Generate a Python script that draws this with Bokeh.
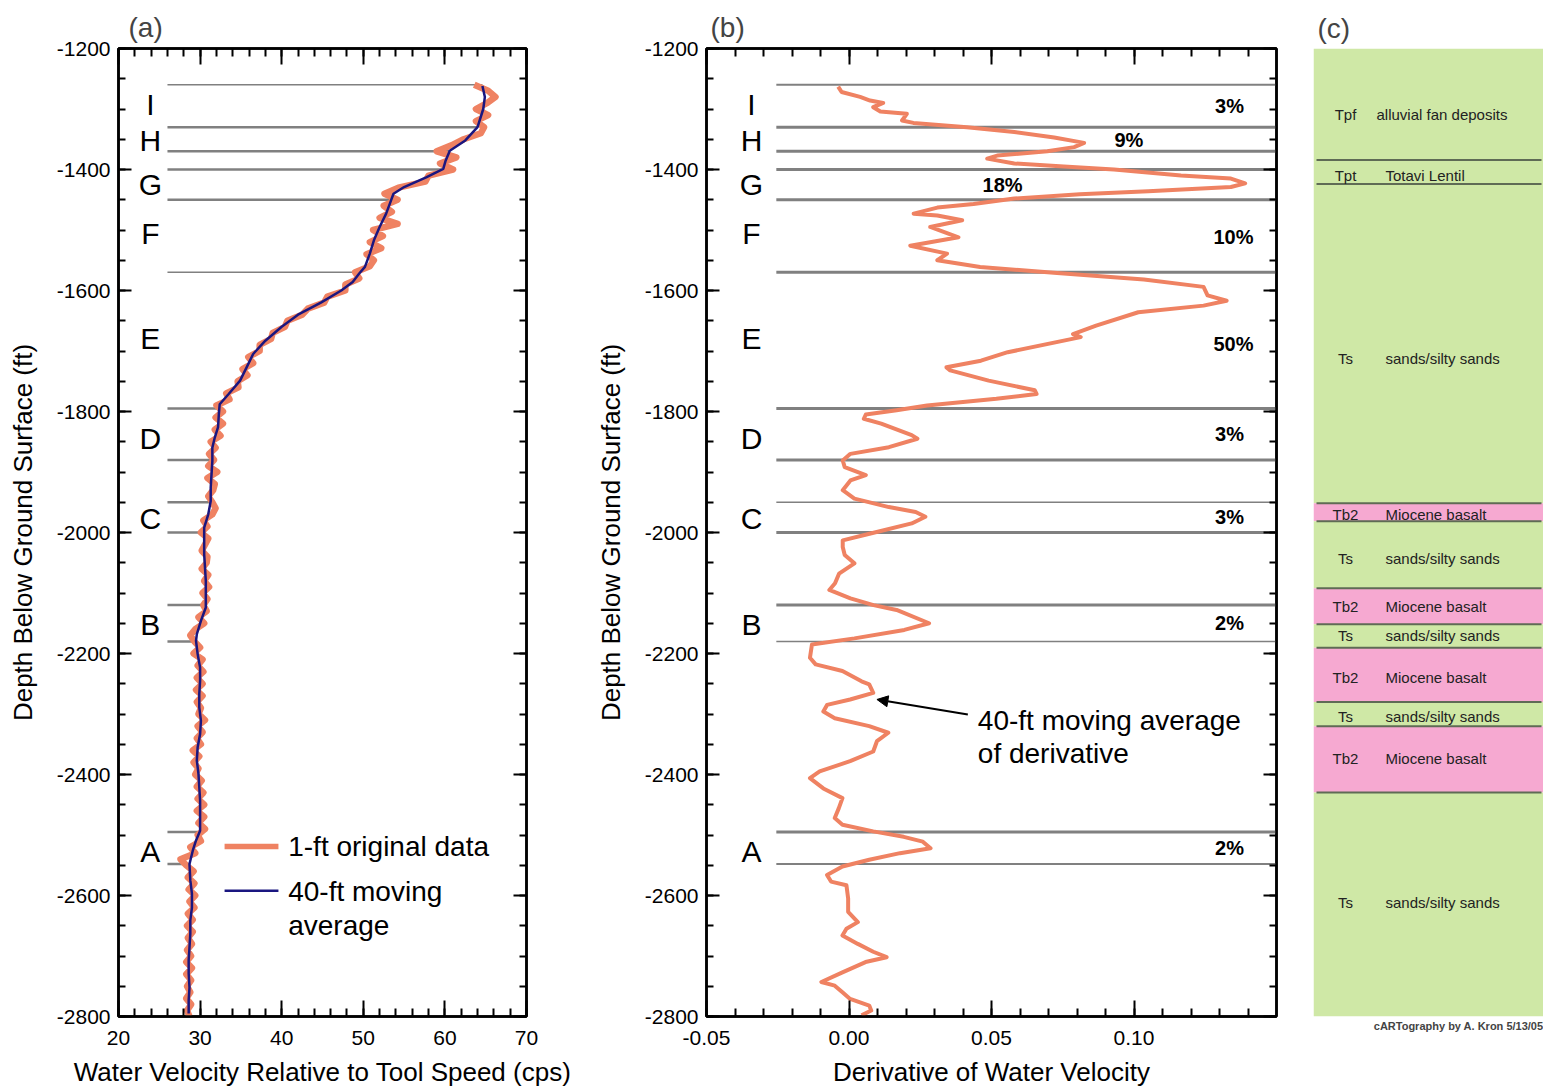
import numpy as np
from bokeh.plotting import figure
from bokeh.models import (Range1d, LinearAxis, SingleIntervalTicker, CustomJSTickFormatter,
                          NumeralTickFormatter, Arrow, NormalHead, Title)
from bokeh.layouts import row
from bokeh.embed import file_html
from bokeh.resources import INLINE
from bokeh.core.properties import value

FONT = "Liberation Sans"
ORANGE = "#ef8262"
NAVY = "#1a1680"
GRAY = "#808080"

# ---------------- data ----------------
# 40-ft moving average of water velocity (panel a)
blue_depth = [-1262, -1280, -1300, -1330, -1352, -1369, -1385, -1399, -1413, -1429, -1440, -1451,
              -1473, -1495, -1517, -1539, -1561, -1572, -1586, -1600, -1620, -1640, -1660, -1683,
              -1705, -1727, -1749, -1771, -1788, -1804, -1826, -1843, -1860, -1882, -1904, -1926,
              -1948, -1970, -1992, -2014, -2036, -2058, -2080, -2102, -2124, -2146, -2168, -2179,
              -2201, -2223, -2245, -2267, -2289, -2311, -2333, -2355, -2377, -2399, -2421, -2443,
              -2465, -2493, -2509, -2526, -2548, -2575, -2597, -2620, -2641, -2663, -2686, -2707,
              -2729, -2752, -2773, -2795]
blue_vel = [64.6, 64.9, 64.7, 64.0, 62.5, 60.6, 60.1, 59.8, 57.7, 55.0, 53.7, 53.4,
            52.8, 52.0, 51.3, 50.8, 50.2, 49.5, 48.7, 47.3, 44.8, 42.0, 40.0, 38.0,
            36.5, 35.7, 34.9, 33.5, 32.4, 32.3, 32.2, 31.8, 31.5, 31.5, 31.4, 31.3,
            31.3, 31.0, 30.5, 30.5, 30.5, 30.6, 30.7, 30.7, 30.7, 30.1, 29.6, 29.5,
            29.7, 30.0, 30.0, 29.9, 29.9, 30.1, 30.0, 29.7, 29.6, 29.8, 29.9, 30.0,
            30.0, 30.0, 29.5, 29.1, 28.7, 28.8, 29.0, 29.0, 28.8, 28.8, 28.7, 28.6,
            28.6, 28.7, 28.6, 28.6]

# original data (read every 10 ft) (panel a)
raw_depth = list(range(-1260, -2810, -10))
raw_vel = [63.6, 65.3, 66.2, 65.2, 63.8, 65.3, 63.8, 64.8, 64.4, 62.3,
           60.8, 59.0, 61.4, 59.4, 61.0, 58.0, 57.6, 54.3, 52.6, 54.2,
           52.5, 53.5, 52.0, 54.2, 51.2, 52.4, 50.8, 52.2, 50.4, 51.3,
           50.8, 49.0, 49.5, 47.8, 47.8, 45.6, 45.2, 43.2, 42.5, 40.7,
           40.4, 38.9, 38.7, 37.3, 37.3, 35.9, 36.5, 35.2, 35.8, 34.6,
           34.7, 33.2, 33.6, 32.0, 32.8, 31.9, 32.8, 31.8, 32.5, 31.3,
           31.9, 31.1, 31.7, 31.0, 32.1, 30.9, 31.8, 31.6, 31.0, 31.5,
           31.9, 31.5, 30.4, 30.9, 30.1, 31.0, 30.6, 30.2, 30.9, 30.8,
           30.2, 31.0, 30.5, 31.1, 30.3, 30.9, 30.4, 30.8, 29.8, 30.5,
           29.4, 28.8, 29.3, 30.0, 29.2, 30.3, 29.7, 30.4, 29.6, 30.3,
           29.5, 30.3, 29.6, 30.1, 29.8, 30.6, 29.7, 30.3, 29.6, 30.1,
           29.1, 29.9, 29.2, 29.8, 29.4, 30.2, 29.6, 30.4, 29.7, 30.5,
           29.6, 30.5, 29.8, 30.6, 29.7, 30.1, 28.8, 29.4, 27.6, 28.3,
           29.2, 28.5, 29.3, 28.6, 29.4, 28.7, 29.3, 28.5, 29.1, 28.4,
           29.1, 28.5, 29.0, 28.4, 28.9, 28.3, 29.0, 28.3, 28.9, 28.4,
           28.8, 28.3, 28.9, 28.4, 28.7]

# 40-ft moving average of derivative (panel b)
deriv_depth = [-1263, -1272, -1280, -1286, -1290, -1297, -1304, -1308, -1319, -1323, -1330, -1338,
               -1347, -1356, -1363, -1370, -1377, -1382, -1390, -1395, -1400, -1410, -1415, -1423,
               -1429, -1436, -1441, -1448, -1457, -1463, -1473, -1476, -1484, -1495, -1512, -1526,
               -1539, -1550, -1561, -1571, -1582, -1594, -1608, -1617, -1625, -1636, -1658, -1672,
               -1677, -1702, -1716, -1727, -1732, -1749, -1765, -1771, -1779, -1790, -1798, -1805,
               -1812, -1820, -1839, -1845, -1859, -1870, -1881, -1892, -1905, -1914, -1930, -1944,
               -1958, -1966, -1974, -1985, -2002, -2013, -2024, -2037, -2051, -2068, -2084, -2095,
               -2109, -2120, -2128, -2150, -2161, -2175, -2185, -2207, -2218, -2229, -2246, -2251,
               -2265, -2276, -2285, -2296, -2307, -2320, -2331, -2345, -2362, -2378, -2395, -2406,
               -2423, -2439, -2456, -2472, -2483, -2494, -2503, -2511, -2522, -2530, -2541, -2552,
               -2566, -2577, -2583, -2605, -2627, -2644, -2655, -2666, -2680, -2693, -2702, -2710,
               -2727, -2743, -2749, -2760, -2771, -2782, -2790, -2798]
deriv_val = [-0.0038, -0.0026, 0.0039, 0.0074, 0.0120, 0.0085, 0.0110, 0.0203, 0.0186, 0.0226, 0.0414, 0.0580,
             0.0720, 0.0825, 0.0790, 0.0696, 0.0520, 0.0485, 0.0580, 0.0754, 0.0930, 0.1165, 0.1340, 0.1390,
             0.1340, 0.1050, 0.0810, 0.0580, 0.0437, 0.0310, 0.0227, 0.0310, 0.0397, 0.0285, 0.0384, 0.0215,
             0.0344, 0.0310, 0.0460, 0.0730, 0.1035, 0.1244, 0.1258, 0.1325, 0.1244, 0.1015, 0.0867, 0.0786,
             0.0813, 0.0557, 0.0463, 0.0342, 0.0355, 0.0490, 0.0652, 0.0658, 0.0517, 0.0274, 0.0167, 0.0059,
             0.0052, 0.0113, 0.0220, 0.0240, 0.0140, 0.0005, -0.0022, -0.0015, 0.0059, 0.0005, -0.0022, 0.0019,
             0.0140, 0.0234, 0.0268, 0.0220, 0.0072, -0.0022, -0.0022, -0.0015, 0.0019, -0.0035, -0.0049, -0.0069,
             0.0005, 0.0086, 0.0167, 0.0281, 0.0194, 0.0019, -0.0130, -0.0137, -0.0117, -0.0023, 0.0044, 0.0071,
             0.0085, 0.0004, -0.0077, -0.0090, -0.0050, 0.0071, 0.0138, 0.0098, 0.0085, 0.0004, -0.0103, -0.0137,
             -0.0090, -0.0023, -0.0036, -0.0050, -0.0023, 0.0085, 0.0192, 0.0259, 0.0286, 0.0179, 0.0071, -0.0023,
             -0.0077, -0.0063, -0.0009, -0.0003, -0.0003, 0.0031, -0.0009, -0.0023, 0.0031, 0.0085, 0.0132, 0.0058,
             -0.0023, -0.0097, -0.0050, -0.0023, 0.0004, 0.0071, 0.0078, 0.0044]

# flow zones
zone_bounds = [-1260, -1330, -1370, -1400, -1450, -1570, -1795, -1880, -1950, -2000, -2120, -2180, -2495, -2548]
zone_letters = ["I", "H", "G", "F", "E", "D", "C", "B", "A"]
zone_letter_depth = [-1293, -1352, -1425, -1506, -1680, -1845, -1977, -2152, -2527]
zone_pct = ["3%", "9%", "18%", "10%", "50%", "3%", "3%", "2%", "2%"]
zone_pct_depth = [-1295, -1352, -1425, -1512, -1688, -1838, -1975, -2150, -2521]

# lithology (panel c)
layer_top = [-1195, -1380, -1420, -1950, -1980, -2091, -2151, -2190, -2280, -2320, -2430]
layer_bottom = [-1380, -1420, -1950, -1980, -2091, -2151, -2190, -2280, -2320, -2430, -2802]
layer_code = ["Tpf", "Tpt", "Ts", "Tb2", "Ts", "Tb2", "Ts", "Tb2", "Ts", "Tb2", "Ts"]
layer_name = ["alluvial fan deposits", "Totavi Lentil", "sands/silty sands", "Miocene basalt",
              "sands/silty sands", "Miocene basalt", "sands/silty sands", "Miocene basalt",
              "sands/silty sands", "Miocene basalt", "sands/silty sands"]
layer_label_depth = [-1305, -1406, -1710, -1969, -2041, -2122, -2170, -2239, -2304, -2374, -2613]

# ---------------- helpers ----------------
H = 1090


def add_axis(p, loc, ticker, fmt, label, major_len, minor_len, show, label_standoff=10, tick_standoff=8):
    ax = LinearAxis(ticker=ticker)
    ax.axis_line_width = 2.5
    ax.axis_line_color = "black"
    ax.major_tick_in = major_len
    ax.major_tick_out = 0
    ax.minor_tick_in = minor_len
    ax.minor_tick_out = 0
    ax.major_tick_line_width = 2
    ax.minor_tick_line_width = 2
    ax.major_tick_line_color = "black"
    ax.minor_tick_line_color = "black"
    if show:
        ax.formatter = fmt
        ax.major_label_text_font = FONT
        ax.major_label_text_font_size = "21px"
        ax.major_label_text_color = "black"
        ax.major_label_standoff = tick_standoff
        ax.axis_label = label
        ax.axis_label_text_font = FONT
        ax.axis_label_text_font_size = "26px"
        ax.axis_label_text_font_style = "normal"
        ax.axis_label_text_color = "black"
        ax.axis_label_standoff = label_standoff
    else:
        ax.formatter = CustomJSTickFormatter(code="return ''")
        ax.major_label_text_font_size = "0px"
        ax.major_label_standoff = 0
    p.add_layout(ax, loc)


def base_fig(width, left, right, xr, title, toff):
    p = figure(width=width, height=H, x_range=xr, y_range=Range1d(-2800, -1200),
               x_axis_type=None, y_axis_type=None, output_backend="svg", toolbar_location=None,
               min_border_left=left, min_border_right=right, min_border_top=48, min_border_bottom=74,
               title=title)
    p.title.text_font = FONT
    p.title.text_font_size = "28px"
    p.title.text_font_style = "normal"
    p.title.align = "left"
    p.title.offset = toff
    p.title.standoff = 12
    p.outline_line_color = "black"
    p.outline_line_width = 2.5
    p.background_fill_color = "white"
    p.border_fill_color = "white"
    return p


def txt(p, x, y, t, size, align="center", style="normal", color="black"):
    p.text(x=x, y=y, text=t, text_font=value(FONT), text_font_size=size, text_align=align,
           text_baseline="middle", text_color=color, text_font_style=style)


yt = lambda: SingleIntervalTicker(interval=200, num_minor_ticks=4)

# ---------------- panel (a) ----------------
pa = base_fig(575, 118, 49, Range1d(20, 70), "(a)", 10)
xta = lambda: SingleIntervalTicker(interval=10, num_minor_ticks=5)
add_axis(pa, "below", xta(), NumeralTickFormatter(format="0"),
         "Water Velocity Relative to Tool Speed (cps)", 16, 8, True, label_standoff=9, tick_standoff=14)
add_axis(pa, "above", xta(), None, "", 16, 8, False)
add_axis(pa, "left", yt(), NumeralTickFormatter(format="0"),
         "Depth Below Ground Surface (ft)", 13, 7, True, label_standoff=16, tick_standoff=8)
add_axis(pa, "right", yt(), None, "", 13, 7, False)

bd = np.array(blue_depth[::-1], dtype=float)
bv = np.array(blue_vel[::-1], dtype=float)
a_widths = [1.5, 2.5, 2.5, 2.5, 2.5, 1.5, 2.5, 2.5, 2.5, 2.5, 2.5, 2.5, 2.5, 2.5]
for zb, lw in zip(zone_bounds, a_widths):
    xe = float(np.interp(zb, bd, bv))
    pa.line([26.0, xe], [zb, zb], line_color=GRAY, line_width=lw)

pa.line(raw_vel, raw_depth, line_color=ORANGE, line_width=6.5, line_join="round")
pa.line(blue_vel, blue_depth, line_color=NAVY, line_width=2.5)

txt(pa, [23.9] * len(zone_letters), zone_letter_depth, zone_letters, "30px")

# legend
pa.line([33.0, 39.6], [-2519, -2519], line_color=ORANGE, line_width=5.5)
pa.line([33.0, 39.6], [-2592, -2592], line_color=NAVY, line_width=2.5)
txt(pa, [40.8], [-2519], ["1-ft original data"], "28px", align="left")
txt(pa, [40.8], [-2594], ["40-ft moving"], "28px", align="left")
txt(pa, [40.8], [-2650], ["average"], "28px", align="left")

# ---------------- panel (b) ----------------
pb = base_fig(725, 131, 24, Range1d(-0.05, 0.15), "(b)", 4)
xtb = lambda: SingleIntervalTicker(interval=0.05, num_minor_ticks=5)
add_axis(pb, "below", xtb(), NumeralTickFormatter(format="0.00"),
         "Derivative of Water Velocity", 16, 8, True, label_standoff=9, tick_standoff=14)
add_axis(pb, "above", xtb(), None, "", 16, 8, False)
add_axis(pb, "left", yt(), NumeralTickFormatter(format="0"),
         "Depth Below Ground Surface (ft)", 13, 7, True, label_standoff=16, tick_standoff=8)
add_axis(pb, "right", yt(), None, "", 13, 7, False)

b_widths = [2, 3, 3, 3, 3, 3, 3, 3, 1.5, 3, 3, 1.5, 3, 2]
for zb, lw in zip(zone_bounds, b_widths):
    pb.line([-0.0255, 0.15], [zb, zb], line_color=GRAY, line_width=lw)

pb.line(deriv_val, deriv_depth, line_color=ORANGE, line_width=4, line_join="round")

txt(pb, [-0.0342] * len(zone_letters), zone_letter_depth, zone_letters, "30px")
pct_x = [0.1335, 0.0982, 0.0539, 0.1349, 0.1349, 0.1335, 0.1335, 0.1335, 0.1335]
txt(pb, pct_x, zone_pct_depth, zone_pct, "20px", style="bold")

pb.add_layout(Arrow(end=NormalHead(size=11, fill_color="black", line_color="black"),
                    x_start=0.0417, y_start=-2301, x_end=0.0098, y_end=-2276,
                    line_color="black", line_width=2))
txt(pb, [0.0452], [-2311], ["40-ft moving average"], "28px", align="left")
txt(pb, [0.0452], [-2366], ["of derivative"], "28px", align="left")

# ---------------- panel (c) ----------------
pc = figure(width=243, height=H, x_range=Range1d(0, 230), y_range=Range1d(-2802, -1195),
            x_axis_type=None, y_axis_type=None, output_backend="svg", toolbar_location=None,
            min_border_left=13, min_border_right=0, min_border_top=45, min_border_bottom=73,
            title="(c)")
pc.title.text_font = FONT
pc.title.text_font_size = "28px"
pc.title.text_font_style = "normal"
pc.title.align = "left"
pc.title.offset = 4
pc.title.standoff = 9
pc.outline_line_color = None
pc.xgrid.visible = False
pc.ygrid.visible = False
pc.background_fill_color = "white"
pc.border_fill_color = "white"

fills = ["#f6a9d1" if c == "Tb2" else "#cfe8a6" for c in layer_code]
pc.quad(left=0, right=230, top=layer_top, bottom=layer_bottom, fill_color=fills, line_color=None)
for b in layer_bottom[:-1]:
    pc.line([3, 228], [b, b], line_color="#5f6b55", line_width=2)
name_x = [63 if c == "Tpf" else 72 for c in layer_code]
txt(pc, [32] * len(layer_code), layer_label_depth, layer_code, "15px", color="#222222")
txt(pc, name_x, layer_label_depth, layer_name, "15px", align="left", color="#222222")

credit = Title(text="cARTography by A. Kron 5/13/05", align="right", text_font=FONT,
               text_font_size="11px", text_font_style="bold", standoff=2)
pc.add_layout(credit, "below")

layout = row(pa, pb, pc)
open("out.html", "w").write(file_html(layout, INLINE))
